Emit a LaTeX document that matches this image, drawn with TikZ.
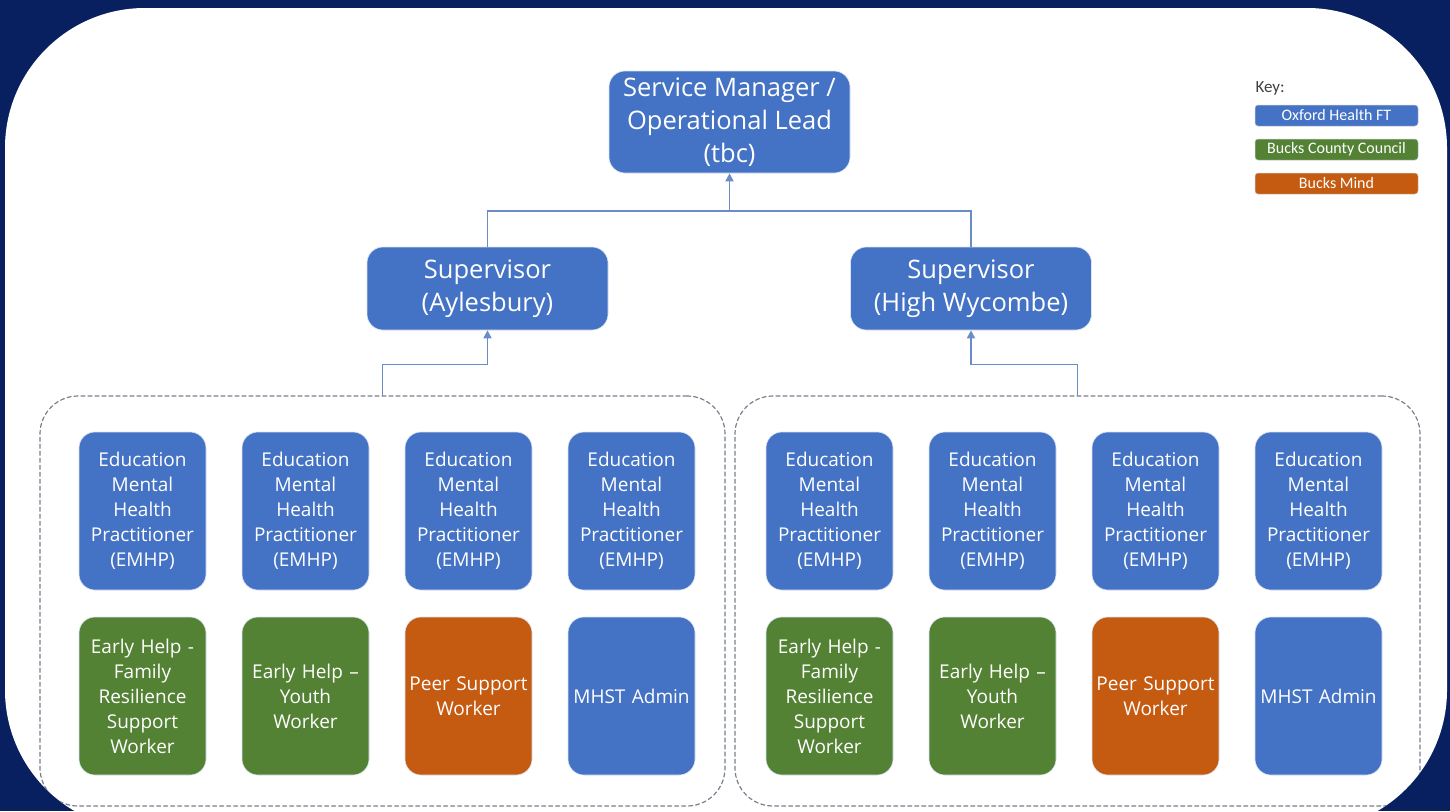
\documentclass[tikz,border=0pt]{standalone}
\usepackage{fontspec}
\setmainfont{Open Sans}
\newfontfamily\keyfont{Carlito}
\usetikzlibrary{arrows.meta}

\definecolor{navy}{RGB}{8,32,96}
\definecolor{ohblue}{RGB}{68,114,196}
\definecolor{bccgreen}{RGB}{84,130,53}
\definecolor{mindorange}{RGB}{197,90,17}
\definecolor{linkblue}{RGB}{106,140,199}
\definecolor{dashgrey}{RGB}{120,128,140}

\tikzset{
  role/.style={draw=white!80!ohblue, line width=0.6pt, rounded corners=16pt,
    text=white, align=center, inner sep=0pt},
  lead/.style={role, fill=ohblue, minimum width=241pt,
    font=\fontsize{25.5}{33}\selectfont},
  staff/.style={role, minimum width=127pt, minimum height=158pt,
    text width=125pt, font=\fontsize{19}{25}\selectfont},
  team/.style={draw=dashgrey, line width=1.2pt, dash pattern=on 4pt off 3pt,
    rounded corners=38pt, minimum width=685pt, minimum height=410pt},
  link/.style={linkblue, line width=1.6pt},
  keybox/.style={draw=white!80!black, line width=0.5pt, rounded corners=3pt,
    minimum width=163pt, minimum height=21pt, inner sep=0pt, text=white,
    font=\keyfont\fontsize{16}{18}\selectfont}
}

\begin{document}
\begin{tikzpicture}[x=1pt, y=-1pt, line cap=round]
    \useasboundingbox (0,0) rectangle (1450,811);
    \fill[navy] (0,0) rectangle (1450,811);
    \fill[white, rounded corners=140pt] (5,8) rectangle (1447,830);

    \begin{scope}
    \clip[rounded corners=140pt] (5,8) rectangle (1447,830);

    % management
    \node[lead, minimum height=102pt] (svc) at (729.5,122)
        {Service Manager /\\Operational Lead\\(tbc)};
    \node[lead, minimum height=83pt] (supA) at (487.5,288.5)
        {Supervisor\\(Aylesbury)};
    \node[lead, minimum height=83pt] (supB) at (971,288.5)
        {Supervisor\\(High Wycombe)};

    % teams
    \node[team] (teamA) at (382.5,601) {};
    \node[team] (teamB) at (1077.5,601) {};

    \foreach \g/\dx in {A/0, B/687} {
        \foreach \i in {0,1,2,3}
            \node[staff, fill=ohblue] (emhp\g\i) at (142.5+\dx+163*\i,511)
                {Education\\Mental\\Health\\Practitioner\\(EMHP)};
        \node[staff, fill=bccgreen] (family\g) at (142.5+\dx,696)
            {Early Help -\\Family\\Resilience\\Support\\Worker};
        \node[staff, fill=bccgreen] (youth\g) at (305.5+\dx,696)
            {Early Help --\\Youth\\Worker};
        \node[staff, fill=mindorange] (peer\g) at (468.5+\dx,696)
            {Peer Support\\Worker};
        \node[staff, fill=ohblue] (admin\g) at (631.5+\dx,696)
            {MHST Admin};
    }

    % reporting lines
    \coordinate (join) at (729.5,211);
    \draw[link] (supA.north) |- (join) -| (supB.north);
    \draw[link, -{Triangle[length=8pt, width=8pt]}] (join) -- (svc.south);
    \draw[link, -{Triangle[length=8pt, width=8pt]}]
        (teamA.north) -- ++(0,-31) -| (supA.south);
    \draw[link, -{Triangle[length=8pt, width=8pt]}]
        (teamB.north) -- ++(0,-31) -| (supB.south);

    % key
    \node[anchor=west, text=black!75, font=\keyfont\fontsize{17}{19}\selectfont]
        (keytitle) at (1252,88) {Key:};
    \node[keybox, fill=ohblue] (keyoh) at (1336.5,115.5) {Oxford Health FT};
    \node[keybox, fill=bccgreen] (keybcc) at (1336.5,149.5) {Bucks County Council};
    \node[keybox, fill=mindorange] (keymind) at (1336.5,183.5) {Bucks Mind};
    \end{scope}
\end{tikzpicture}
\end{document}
